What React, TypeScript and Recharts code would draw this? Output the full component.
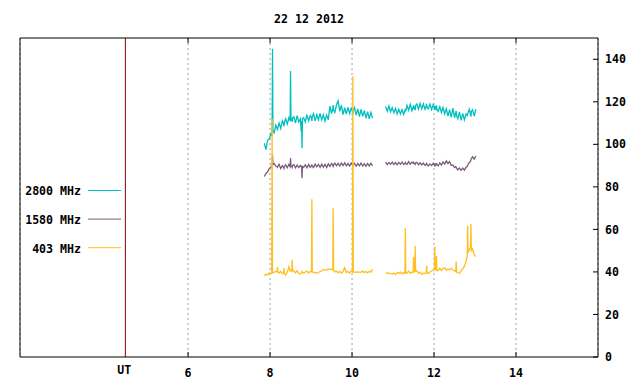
import React from 'react';
import { LineChart, Line, XAxis, YAxis, CartesianGrid, ReferenceLine, Legend } from 'recharts';

const title = '22 12 2012';
const xTicks = [6, 8, 10, 12, 14];
const yTicks = [0, 20, 40, 60, 80, 100, 120, 140];
const utHour = 4.47;
const utLabel = 'UT';
const seriesNames = ['2800 MHz', '1580 MHz', '403 MHz'];
const seriesKeys = ['s2800', 's1580', 's403'];
const seriesColors = ['#00bfbf', '#7a5a7c', '#ffbf1f'];

const hoursA = [
  7.86, 7.9, 7.94, 7.98, 8.02, 8.04, 8.05, 8.06, 8.07, 8.1,
  8.14, 8.17, 8.18, 8.19, 8.22, 8.26, 8.3, 8.33, 8.34, 8.35,
  8.38, 8.42, 8.46, 8.49, 8.5, 8.51, 8.53, 8.54, 8.55, 8.58,
  8.62, 8.66, 8.7, 8.74, 8.76, 8.77, 8.78, 8.79, 8.82, 8.86,
  8.9, 8.94, 8.98, 9.01, 9.02, 9.03, 9.06, 9.1, 9.14, 9.18,
  9.22, 9.26, 9.3, 9.34, 9.38, 9.42, 9.46, 9.5, 9.53, 9.54,
  9.55, 9.58, 9.62, 9.66, 9.7, 9.74, 9.78, 9.82, 9.86, 9.9,
  9.94, 9.98, 10.01, 10.02, 10.03, 10.06, 10.1, 10.14, 10.18, 10.22,
  10.26, 10.3, 10.34, 10.38, 10.42, 10.46, 10.5,
];
const gapHour = 10.66;
const hoursB = [
  10.82, 10.86, 10.9, 10.94, 10.98, 11.02, 11.06, 11.1, 11.14, 11.18,
  11.22, 11.26, 11.29, 11.3, 11.31, 11.34, 11.38, 11.42, 11.46, 11.49,
  11.5, 11.51, 11.53, 11.54, 11.55, 11.58, 11.62, 11.66, 11.7, 11.74,
  11.78, 11.81, 11.82, 11.83, 11.86, 11.9, 11.94, 11.98, 12.01, 12.02,
  12.03, 12.05, 12.06, 12.07, 12.1, 12.14, 12.18, 12.22, 12.26, 12.3,
  12.34, 12.38, 12.42, 12.46, 12.5, 12.53, 12.54, 12.55, 12.58, 12.62,
  12.66, 12.7, 12.74, 12.78, 12.81, 12.82, 12.83, 12.86, 12.89, 12.9,
  12.91, 12.94, 12.98, 13.02,
];

const mhz2800A = [
  100.5, 97.5, 102.0, 102.5, 105.0, 104.0, 105.5, 145.0, 106.5, 105.5,
  109.0, 107.5, 106.5, 108.0, 110.0, 107.5, 111.0, 109.5, 108.5, 110.5,
  112.0, 109.5, 112.5, 111.0, 134.5, 111.5, 112.0, 110.5, 112.5, 113.0,
  110.0, 113.5, 110.5, 112.0, 106.0, 111.0, 98.2, 112.0, 112.5, 110.5,
  114.0, 111.0, 113.5, 112.5, 111.0, 113.0, 114.5, 111.0, 114.0, 111.5,
  114.5, 111.5, 114.0, 111.0, 113.8, 111.5, 118.0, 114.5, 117.0, 118.5,
  116.0, 115.0, 118.5, 120.5, 115.5, 118.5, 114.0, 117.2, 114.2, 117.4,
  114.5, 117.0, 115.5, 114.0, 116.0, 117.3, 113.7, 116.6, 113.0, 116.4,
  113.2, 116.0, 112.3, 115.4, 112.0, 115.0, 112.3,
];
const mhz2800B = [
  117.8, 115.6, 118.0, 115.3, 117.2, 114.8, 116.9, 114.3, 116.5, 114.3,
  116.3, 114.1, 116.0, 116.7, 115.5, 118.3, 116.0, 118.8, 115.8, 117.5,
  118.3, 116.5, 117.8, 116.0, 118.2, 119.0, 116.5, 119.3, 116.7, 119.0,
  116.5, 118.0, 119.1, 117.2, 116.7, 118.9, 116.3, 118.7, 117.0, 116.0,
  118.0, 117.0, 118.3, 116.5, 115.5, 117.7, 115.0, 117.3, 114.3, 116.7,
  113.3, 116.3, 112.7, 117.0, 112.5, 115.0, 115.7, 113.5, 112.0, 115.3,
  111.3, 114.5, 111.5, 114.3, 113.5, 114.0, 115.0, 116.5, 114.0, 113.0,
  115.5, 116.3, 113.3, 116.5,
];
const mhz1580A = [
  84.9, 86.3, 87.0, 88.6, 89.3, 89.8, 90.2, 95.0, 90.5, 91.0,
  89.8, 89.5, 89.2, 89.6, 90.6, 88.6, 90.0, 89.2, 88.7, 89.5,
  90.4, 89.0, 90.6, 89.5, 93.5, 89.8, 89.6, 89.2, 90.0, 90.5,
  88.9, 90.3, 89.1, 90.1, 89.5, 89.9, 84.1, 89.6, 89.2, 90.4,
  89.0, 90.6, 89.2, 89.8, 90.5, 89.7, 89.1, 90.7, 89.4, 90.5,
  89.2, 90.7, 89.3, 90.6, 89.1, 90.8, 89.6, 91.0, 90.2, 89.7,
  90.5, 91.2, 89.9, 91.1, 89.8, 91.2, 90.0, 91.3, 89.9, 91.0,
  89.8, 91.2, 90.4, 90.0, 90.6, 91.1, 89.7, 91.0, 89.9, 91.2,
  89.8, 90.9, 89.7, 91.0, 89.8, 91.1, 89.9,
];
const mhz1580B = [
  91.7, 90.5, 91.5, 90.6, 91.6, 90.5, 91.4, 90.4, 91.5, 90.6,
  91.6, 90.5, 91.2, 91.5, 90.9, 90.6, 91.8, 90.7, 91.6, 91.2,
  91.9, 91.0, 90.9, 90.6, 91.2, 91.5, 90.4, 91.3, 90.3, 91.2,
  90.1, 90.6, 91.0, 90.4, 89.9, 90.8, 90.0, 91.1, 90.2, 89.5,
  90.8, 90.5, 91.2, 90.3, 89.9, 91.3, 90.3, 91.7, 90.7, 92.2,
  90.9, 91.9, 90.1, 90.3, 89.1, 89.5, 89.2, 88.8, 88.0, 88.9,
  87.8, 88.8, 87.9, 89.2, 89.6, 90.0, 90.5, 91.5, 92.0, 92.8,
  93.2, 94.2, 93.0, 94.5,
];
const mhz403A = [
  38.2, 38.9, 38.6, 39.6, 39.2, 39.4, 112.0, 39.6, 39.8, 39.8,
  40.2, 40.0, 42.3, 40.0, 39.5, 40.3, 39.2, 39.5, 41.8, 39.3,
  38.5, 39.9, 42.5, 40.5, 40.7, 40.8, 40.4, 45.7, 40.6, 40.5,
  39.5, 40.6, 39.2, 39.1, 39.6, 39.8, 40.3, 39.8, 39.4, 40.0,
  40.4, 39.5, 40.2, 40.0, 74.2, 40.1, 39.7, 39.8, 39.4, 39.6,
  40.3, 40.4, 41.1, 41.0, 40.9, 41.4, 41.2, 41.3, 41.0, 70.0,
  40.8, 40.1, 40.3, 39.6, 40.3, 39.5, 40.2, 42.0, 39.7, 40.2,
  39.5, 40.4, 40.0, 132.0, 40.1, 39.8, 40.0, 39.9, 39.9, 39.8,
  40.4, 39.7, 40.2, 39.6, 40.3, 39.8, 41.3,
];
const mhz403B = [
  39.7, 39.3, 39.5, 39.2, 39.0, 39.5, 38.8, 39.7, 39.3, 39.9,
  39.2, 39.6, 39.4, 60.6, 39.5, 39.5, 40.4, 39.3, 39.9, 39.8,
  47.0, 40.0, 40.2, 52.3, 40.3, 40.5, 39.4, 39.9, 38.9, 39.4,
  39.3, 39.6, 42.9, 39.5, 39.3, 39.9, 40.3, 40.9, 41.0, 52.0,
  41.2, 41.0, 47.5, 40.8, 40.6, 41.8, 40.7, 41.6, 41.9, 40.8,
  41.4, 40.9, 41.7, 41.0, 40.6, 40.2, 44.9, 40.0, 39.6, 39.3,
  40.5, 41.5, 42.6, 44.9, 47.5, 61.7, 49.0, 50.5, 51.5, 62.6,
  50.0, 50.9, 48.0, 47.3,
];

type Row = { h: number; s2800: number | null; s1580: number | null; s403: number | null };
const data: Row[] = [
  ...hoursA.map((h, i) => ({ h, s2800: mhz2800A[i], s1580: mhz1580A[i], s403: mhz403A[i] })),
  { h: gapHour, s2800: null, s1580: null, s403: null },
  ...hoursB.map((h, i) => ({ h, s2800: mhz2800B[i], s1580: mhz1580B[i], s403: mhz403B[i] })),
];

const FONT = '"DejaVu Sans Mono", "Liberation Mono", monospace';
const FS = 11.6;

const renderLegend = () => (
  <svg width={130} height={90} style={{ display: 'block' }}>
    {seriesNames.map((name, i) => {
      const cy = 11 + i * 28.6;
      return (
        <g key={name}>
          <text x={81} y={cy + 4.3} textAnchor="end" fontFamily={FONT} fontSize={FS} fontWeight="bold" fill="#000">
            {name}
          </text>
          <line x1={88} x2={121} y1={cy - 0.5} y2={cy - 0.5} stroke={seriesColors[i]} strokeWidth={1} />
        </g>
      );
    })}
  </svg>
);

const renderUT = (props: any) => {
  const vb = props.viewBox || {};
  const x = vb.x ?? 0;
  const y = (vb.y ?? 0) + (vb.height ?? 0) + 16.5;
  return (
    <text x={x - 1} y={y} textAnchor="middle" fontFamily={FONT} fontSize={FS} fontWeight="bold" fill="#000">
      {utLabel}
    </text>
  );
};

export default function App() {
  const tickStyle = { fontFamily: FONT, fontSize: FS, fontWeight: 'bold', fill: '#000' } as any;
  return (
    <div style={{ position: 'absolute', left: 0, top: 0, width: 640, height: 384, background: '#fff' }}>
      <div
        style={{
          position: 'absolute',
          left: 20,
          top: 12,
          width: 578,
          textAlign: 'center',
          fontFamily: FONT,
          fontSize: FS,
          fontWeight: 'bold',
          lineHeight: '14px',
          color: '#000',
        }}
      >
        {title}
      </div>
      <LineChart width={640} height={384} data={data} margin={{ top: 37, right: 0, bottom: 0, left: 19 }}>
        <CartesianGrid
          xAxisId="b"
          yAxisId="r"
          horizontal={false}
          vertical={true}
          stroke="#a0a0a0"
          strokeDasharray="2 3"
        />
        <XAxis
          xAxisId="b"
          dataKey="h"
          type="number"
          domain={[1.9, 16]}
          ticks={xTicks}
          allowDataOverflow
          height={27}
          tickSize={-5}
          tickMargin={17}
          stroke="#000"
          tick={tickStyle}
          interval={0}
        />
        <XAxis
          xAxisId="t"
          orientation="top"
          dataKey="h"
          type="number"
          domain={[1.9, 16]}
          ticks={xTicks}
          allowDataOverflow
          height={1}
          tickSize={-5}
          tickFormatter={() => ''}
          stroke="#000"
          interval={0}
        />
        <YAxis yAxisId="l" orientation="left" width={1} domain={[0, 150]} tick={false} tickLine={false} stroke="#000" />
        <YAxis
          yAxisId="r"
          orientation="right"
          width={42}
          domain={[0, 150]}
          ticks={yTicks}
          allowDataOverflow
          tickSize={-5}
          tickMargin={12}
          stroke="#000"
          tick={tickStyle}
          interval={0}
        />
        <ReferenceLine xAxisId="b" yAxisId="r" x={utHour} stroke="#800000" strokeWidth={1} label={renderUT} />
        {seriesKeys.map((k, i) => (
          <Line
            key={k}
            xAxisId="b"
            yAxisId="r"
            type="linear"
            dataKey={k}
            name={seriesNames[i]}
            stroke={seriesColors[i]}
            strokeWidth={1.3}
            dot={false}
            activeDot={false}
            isAnimationActive={false}
          />
        ))}
        <Legend
          layout="vertical"
          align="center"
          verticalAlign="middle"
          content={renderLegend}
          wrapperStyle={{ position: 'absolute', left: 0, top: 180, width: 130, height: 90 }}
        />
      </LineChart>
    </div>
  );
}
